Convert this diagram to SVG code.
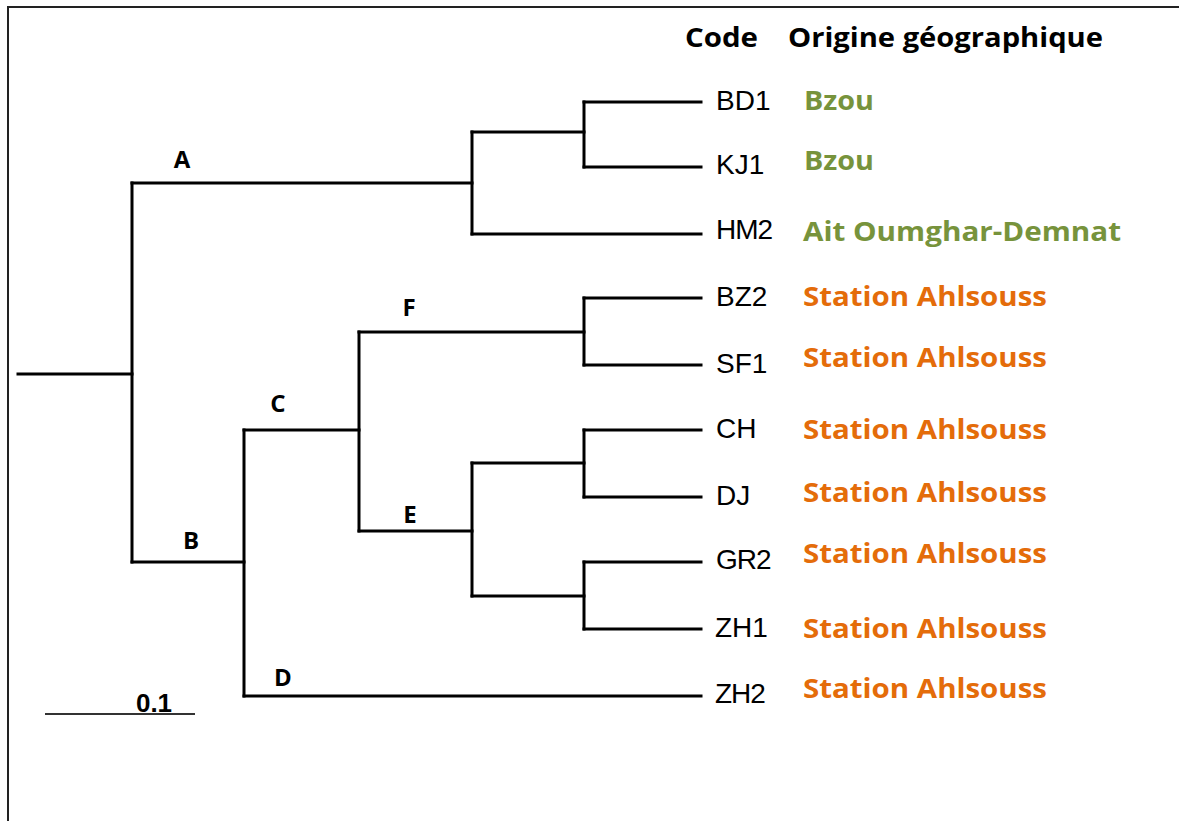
<svg xmlns="http://www.w3.org/2000/svg" width="1179" height="821" viewBox="0 0 1179 821">
  <style>
    .frame { fill: none; stroke: #222; stroke-width: 2; }
    .branch { fill: none; stroke: #000; stroke-width: 3; stroke-linecap: square; }
    .scale { stroke: #333; stroke-width: 2; }
    .code { font-family: "Liberation Sans", Arial, sans-serif; font-size: 28px; fill: #000; }
    .origin { font-family: "Open Sans", "Noto Sans", sans-serif; font-weight: bold; font-size: 26px; }
    .green { fill: #77933C; }
    .orange { fill: #E46C0A; }
    .head { font-family: "Open Sans", "Noto Sans", sans-serif; font-weight: bold; font-size: 26px; fill: #000; }
    .clade { font-family: "Open Sans", "Noto Sans", sans-serif; font-weight: bold; font-size: 24px; fill: #000; text-anchor: middle; }
    .bar { font-family: "Liberation Sans", Arial, sans-serif; font-weight: bold; font-size: 26px; fill: #000; text-anchor: middle; }
  </style>

  <rect width="1179" height="821" fill="#fff"/>
  <!-- outer frame (top and left edges visible) -->
  <path class="frame" d="M8,830 V7 H1190"/>

  <!-- column headers -->
  <g id="headers">
    <text class="head" x="685" y="47" textLength="73" lengthAdjust="spacingAndGlyphs">Code</text>
    <text class="head" x="788" y="47" textLength="315" lengthAdjust="spacingAndGlyphs">Origine géographique</text>
  </g>

  <!-- tree branches -->
  <g id="connectors">
    <!-- root -->
    <path class="branch" d="M18,374 H132"/>
    <path class="branch" d="M132,183 V562"/>
    <!-- clade A -->
    <path class="branch" d="M132,183 H472"/>
    <path class="branch" d="M472,132 V234"/>
    <path class="branch" d="M472,132 H584"/>
    <path class="branch" d="M584,102 V167"/>
    <path class="branch" d="M584,102 H701"/>
    <path class="branch" d="M584,167 H701"/>
    <path class="branch" d="M472,234 H701"/>
    <!-- clade B -->
    <path class="branch" d="M132,562 H244"/>
    <path class="branch" d="M244,430 V696"/>
    <!-- clade C -->
    <path class="branch" d="M244,430 H359"/>
    <path class="branch" d="M359,332 V531"/>
    <!-- clade F -->
    <path class="branch" d="M359,332 H584"/>
    <path class="branch" d="M584,298 V365"/>
    <path class="branch" d="M584,298 H701"/>
    <path class="branch" d="M584,365 H701"/>
    <!-- clade E -->
    <path class="branch" d="M359,531 H472"/>
    <path class="branch" d="M472,463 V596"/>
    <path class="branch" d="M472,463 H584"/>
    <path class="branch" d="M584,430 V497"/>
    <path class="branch" d="M584,430 H701"/>
    <path class="branch" d="M584,497 H701"/>
    <path class="branch" d="M472,596 H584"/>
    <path class="branch" d="M584,562 V629"/>
    <path class="branch" d="M584,562 H701"/>
    <path class="branch" d="M584,629 H701"/>
    <!-- clade D -->
    <path class="branch" d="M244,696 H701"/>
  </g>

  <!-- clade labels -->
  <g id="clade-labels">
    <text id="clade-A" class="clade" x="182" y="168">A</text>
    <text id="clade-B" class="clade" x="191" y="549">B</text>
    <text id="clade-C" class="clade" x="278" y="412">C</text>
    <text id="clade-D" class="clade" x="283" y="686">D</text>
    <text id="clade-E" class="clade" x="410" y="523">E</text>
    <text id="clade-F" class="clade" x="409" y="316">F</text>
  </g>

  <!-- leaves: code and geographic origin -->
  <g id="leaf-BD1">
    <text class="code" x="716" y="110">BD1</text>
    <text class="origin green" x="804" y="110" textLength="70" lengthAdjust="spacingAndGlyphs">Bzou</text>
  </g>
  <g id="leaf-KJ1">
    <text class="code" x="716" y="174">KJ1</text>
    <text class="origin green" x="804" y="170" textLength="70" lengthAdjust="spacingAndGlyphs">Bzou</text>
  </g>
  <g id="leaf-HM2">
    <text class="code" x="716" y="239" letter-spacing="-1">HM2</text>
    <text class="origin green" x="803" y="241" textLength="318" lengthAdjust="spacingAndGlyphs">Ait Oumghar-Demnat</text>
  </g>
  <g id="leaf-BZ2">
    <text class="code" x="716" y="306">BZ2</text>
    <text class="origin orange" x="803" y="306" textLength="244" lengthAdjust="spacingAndGlyphs">Station Ahlsouss</text>
  </g>
  <g id="leaf-SF1">
    <text class="code" x="716" y="373">SF1</text>
    <text class="origin orange" x="803" y="367" textLength="244" lengthAdjust="spacingAndGlyphs">Station Ahlsouss</text>
  </g>
  <g id="leaf-CH">
    <text class="code" x="716" y="438">CH</text>
    <text class="origin orange" x="803" y="439" textLength="244" lengthAdjust="spacingAndGlyphs">Station Ahlsouss</text>
  </g>
  <g id="leaf-DJ">
    <text class="code" x="716" y="505">DJ</text>
    <text class="origin orange" x="803" y="502" textLength="244" lengthAdjust="spacingAndGlyphs">Station Ahlsouss</text>
  </g>
  <g id="leaf-GR2">
    <text class="code" x="716" y="569" letter-spacing="-1">GR2</text>
    <text class="origin orange" x="803" y="563" textLength="244" lengthAdjust="spacingAndGlyphs">Station Ahlsouss</text>
  </g>
  <g id="leaf-ZH1">
    <text class="code" x="715" y="637">ZH1</text>
    <text class="origin orange" x="803" y="638" textLength="244" lengthAdjust="spacingAndGlyphs">Station Ahlsouss</text>
  </g>
  <g id="leaf-ZH2">
    <text class="code" x="715" y="703" letter-spacing="-1">ZH2</text>
    <text class="origin orange" x="803" y="698" textLength="244" lengthAdjust="spacingAndGlyphs">Station Ahlsouss</text>
  </g>

  <!-- scale bar -->
  <g id="scale-bar">
    <line class="scale" x1="45" y1="714" x2="195" y2="714"/>
    <text class="bar" x="154" y="712">0.1</text>
  </g>
</svg>
